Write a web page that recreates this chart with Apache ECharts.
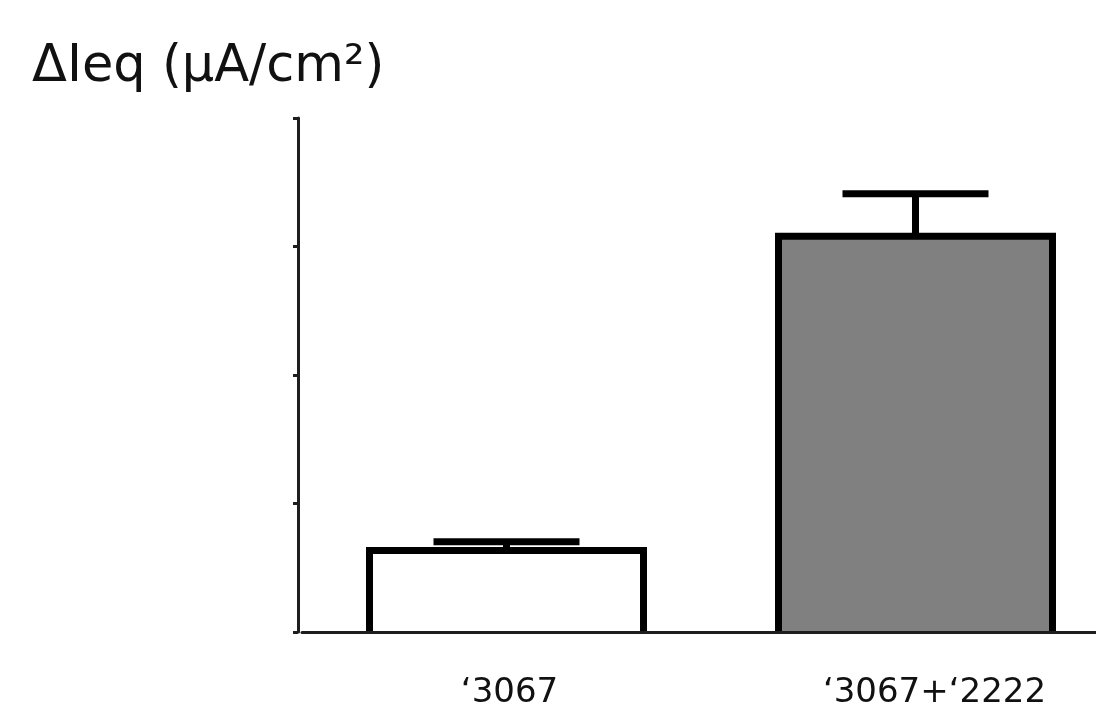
<!DOCTYPE html>
<html>
<head>
<meta charset="utf-8">
<script src="https://cdn.jsdelivr.net/npm/echarts@6/dist/echarts.min.js"></script>
<style>html,body{margin:0;padding:0;background:#fff;}#c{width:1096px;height:706px;}</style>
</head>
<body>
<div id="c"></div>
<script>
const categories = ['‘3067', '‘3067+‘2222'];
const means = [0.634, 3.08];
const errors = [0.068, 0.33];
const barColors = ['#ffffff', '#808080'];
const yTicks = [0, 1, 2, 3, 4];

const chart = echarts.init(document.getElementById('c'));
chart.setOption({
  animation: false,
  backgroundColor: '#ffffff',
  title: {
    text: 'ΔIeq (µA/cm²)',
    left: 27, top: 37,
    textStyle: { fontFamily: 'DejaVu Sans', fontSize: 51, fontWeight: 'normal', color: '#111' }
  },
  grid: { left: 302, top: 118, width: 818, bottom: 74, outerBoundsMode: 'none', containLabel: false },
  xAxis: {
    type: 'category',
    data: categories,
    z: 10,
    axisLine: { lineStyle: { color: '#1e1e1e', width: 3 } },
    axisTick: { alignWithLabel: true, length: 12, lineStyle: { color: '#1e1e1e', width: 3 } },
    axisLabel: {
      margin: 44,
      formatter: function (value, index) { return '{' + (index === 0 ? 'a' : 'b') + '|' + value + '}'; },
      rich: {
        a: { fontFamily: 'DejaVu Sans', fontSize: 34, color: '#111', padding: [0, 0, 0, 6] },
        b: { fontFamily: 'DejaVu Sans', fontSize: 34, color: '#111', padding: [0, 0, 0, 38] }
      }
    }
  },
  yAxis: {
    type: 'value',
    min: yTicks[0], max: yTicks[yTicks.length - 1], interval: 1,
    offset: 4,
    splitLine: { show: false },
    axisLine: { show: true, lineStyle: { color: '#1e1e1e', width: 3 } },
    axisTick: { show: true, length: 5, lineStyle: { color: '#1e1e1e', width: 3 } },
    axisLabel: { show: false }
  },
  series: [
    {
      type: 'custom',
      z: 2,
      data: means.map((v, i) => [i, v]),
      renderItem: function (params, api) {
        const i = api.value(0);
        const top = api.coord([i, api.value(1)]);
        const base = api.coord([i, 0]);
        const hw = 137;
        const x0 = top[0] - hw, x1 = top[0] + hw;
        return {
          type: 'group',
          children: [
            { type: 'rect', shape: { x: x0, y: top[1], width: x1 - x0, height: base[1] - top[1] }, style: { fill: barColors[i], stroke: null } },
            { type: 'polyline', shape: { points: [[x0, base[1]], [x0, top[1]], [x1, top[1]], [x1, base[1]]] }, style: { stroke: '#000', lineWidth: 7, fill: null, lineJoin: 'miter' } }
          ]
        };
      }
    },
    {
      type: 'custom',
      z: 3,
      data: means.map((v, i) => [i, v, v + errors[i]]),
      renderItem: function (params, api) {
        const x = api.value(0);
        const p0 = api.coord([x, api.value(1)]);
        const p1 = api.coord([x, api.value(2)]);
        const hw = 73;
        return {
          type: 'group',
          children: [
            { type: 'line', shape: { x1: p0[0], y1: p0[1], x2: p1[0], y2: p1[1] }, style: { stroke: '#000', lineWidth: 7 } },
            { type: 'line', shape: { x1: p1[0] - hw, y1: p1[1], x2: p1[0] + hw, y2: p1[1] }, style: { stroke: '#000', lineWidth: 7 } }
          ]
        };
      }
    }
  ]
});
</script>
</body>
</html>
